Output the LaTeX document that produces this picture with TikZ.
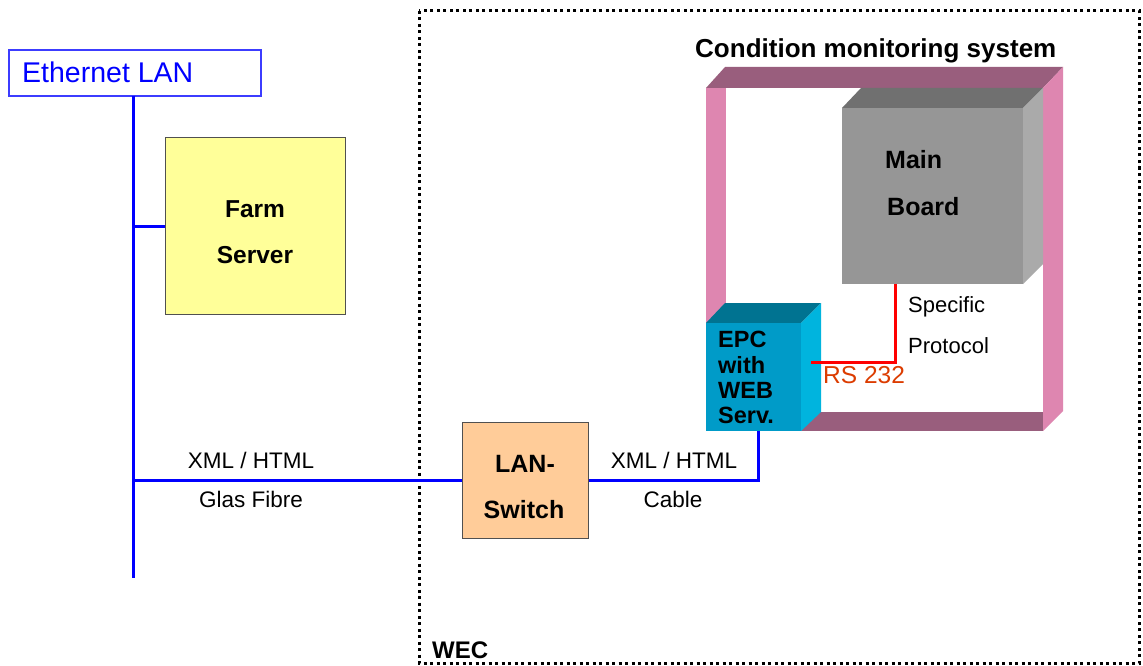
\documentclass[tikz,border=0pt]{standalone}
\usepackage{fontspec}
\setmainfont{Liberation Sans}
\begin{document}
\begin{tikzpicture}[x=1pt,y=-1pt,
  txt/.style={inner sep=0pt,anchor=base west},
  txtc/.style={inner sep=0pt,anchor=base},
  bus/.style={draw={rgb,255:red,0;green,0;blue,255},line width=3pt},
  redline/.style={draw={rgb,255:red,255;green,0;blue,0},line width=3pt},
  boxA/.style={draw={rgb,255:red,80;green,80;blue,80},line width=1pt,inner sep=0pt}]
\definecolor{lanblue}{RGB}{0,0,255}
\definecolor{lanframe}{RGB}{60,60,255}
\definecolor{farmfill}{RGB}{255,255,153}
\definecolor{switchfill}{RGB}{255,204,153}
\definecolor{mauve}{RGB}{153,94,125}
\definecolor{pinkband}{RGB}{222,134,176}
\definecolor{mbfront}{RGB}{150,150,150}
\definecolor{mbtop}{RGB}{112,112,112}
\definecolor{mbright}{RGB}{170,170,170}
\definecolor{epcfront}{RGB}{0,155,200}
\definecolor{epctop}{RGB}{0,115,145}
\definecolor{epcright}{RGB}{0,180,222}
\definecolor{rsred}{RGB}{220,60,0}
\useasboundingbox (0,0) rectangle (1143,666);
\fill[white] (0,0) rectangle (1143,666);

% WEC dotted frame
\draw[line width=3pt,dash pattern=on 3pt off 3.5pt] (419,11) rectangle (1139,663);
\node[txt,font=\bfseries\fontsize{24}{24}\selectfont] (wec) at (432,658) {WEC};

% Ethernet LAN
\node[draw=lanframe,line width=1.2pt,minimum width=252pt,minimum height=46pt,inner sep=0pt] (eth) at (135,73) {};
\node[txt,text=lanblue,font=\fontsize{28.5}{28.5}\selectfont] (ethtext) at (22,83) {Ethernet LAN};

% Farm server
\node[boxA,fill=farmfill,minimum width=180pt,minimum height=176pt] (farm) at (255,226) {};
\node[txtc,font=\bfseries\fontsize{24.5}{24.5}\selectfont] (farm1) at (255,217) {Farm};
\node[txtc,font=\bfseries\fontsize{24.5}{24.5}\selectfont] (farm2) at (255,263) {Server};

% LAN switch
\node[boxA,fill=switchfill,minimum width=126pt,minimum height=116pt] (switch) at (525,480) {};
\node[txtc,font=\bfseries\fontsize{25}{25}\selectfont] (sw1) at (525,472) {LAN-};
\node[txtc,font=\bfseries\fontsize{25}{25}\selectfont] (sw2) at (524,518) {Switch};

% bus
\coordinate (bustop) at (133,96);
\coordinate (busbot) at (133,578);
\draw[bus] (bustop) -- (busbot);
\draw[bus] (bustop |- farm.west) -- (farm.west);
\draw[bus] (bustop |- switch.west) -- (switch.west);

% labels on links
\node[txtc,font=\fontsize{22.5}{22.5}\selectfont] (l1) at (251,468) {XML / HTML};
\node[txtc,font=\fontsize{22.5}{22.5}\selectfont] (l2) at (251,507) {Glas Fibre};
\node[txtc,font=\fontsize{22.5}{22.5}\selectfont] (l3) at (674,468) {XML / HTML};
\node[txtc,font=\fontsize{22.5}{22.5}\selectfont] (l4) at (673,507) {Cable};

% Condition monitoring frame
\node[txt,font=\bfseries\fontsize{26}{26}\selectfont] (cms) at (695,58) {Condition monitoring system};
\fill[mauve] (706,88) -- (725,67) -- (1063,67) -- (1043,88) -- cycle;
\fill[pinkband] (706,88) rectangle (726,431);
\fill[pinkband] (1043,88) -- (1063,67) -- (1063,411) -- (1043,431) -- cycle;
\fill[mauve] (801,412) rectangle (1043,431);

% Main board cube
\fill[mbtop] (842,108) -- (861,88) -- (1043,88) -- (1023,108) -- cycle;
\fill[mbright] (1023,108) -- (1043,88) -- (1043,264) -- (1023,284) -- cycle;
\node[fill=mbfront,inner sep=0pt,minimum width=181pt,minimum height=176pt] (main) at (932.5,196) {};
\node[txt,font=\bfseries\fontsize{25}{25}\selectfont] (mb1) at (885,168) {Main};
\node[txt,font=\bfseries\fontsize{25}{25}\selectfont] (mb2) at (887,215) {Board};

% EPC cube
\fill[epctop] (706,323) -- (725,303) -- (821,303) -- (801,323) -- cycle;
\fill[epcright] (801,323) -- (821,303) -- (821,412) -- (801,431) -- cycle;
\node[fill=epcfront,inner sep=0pt,minimum width=95pt,minimum height=108pt] (epc) at (753.5,377) {};
\node[txt,font=\bfseries\fontsize{23.5}{23.5}\selectfont] (e1) at (718,347) {EPC};
\node[txt,font=\bfseries\fontsize{23.5}{23.5}\selectfont] (e2) at (718,373) {with};
\node[txt,font=\bfseries\fontsize{23.5}{23.5}\selectfont] (e3) at (718,398) {WEB};
\node[txt,font=\bfseries\fontsize{23.5}{23.5}\selectfont] (e4) at (718,423) {Serv.};

% RS 232 link
\coordinate (rsA) at (811,362);
\coordinate (mbport) at (895,284);
\draw[redline] (rsA) -| (mbport);
\node[txt,text=rsred,font=\fontsize{24.5}{24.5}\selectfont] (rs) at (823,383) {RS 232};
\node[txt,font=\fontsize{22}{22}\selectfont] (sp1) at (908,312) {Specific};
\node[txt,font=\fontsize{22}{22}\selectfont] (sp2) at (908,353) {Protocol};

% switch to EPC
\coordinate (epcport) at (758,431);
\draw[bus] (switch.east) -| (epcport);
\end{tikzpicture}
\end{document}
